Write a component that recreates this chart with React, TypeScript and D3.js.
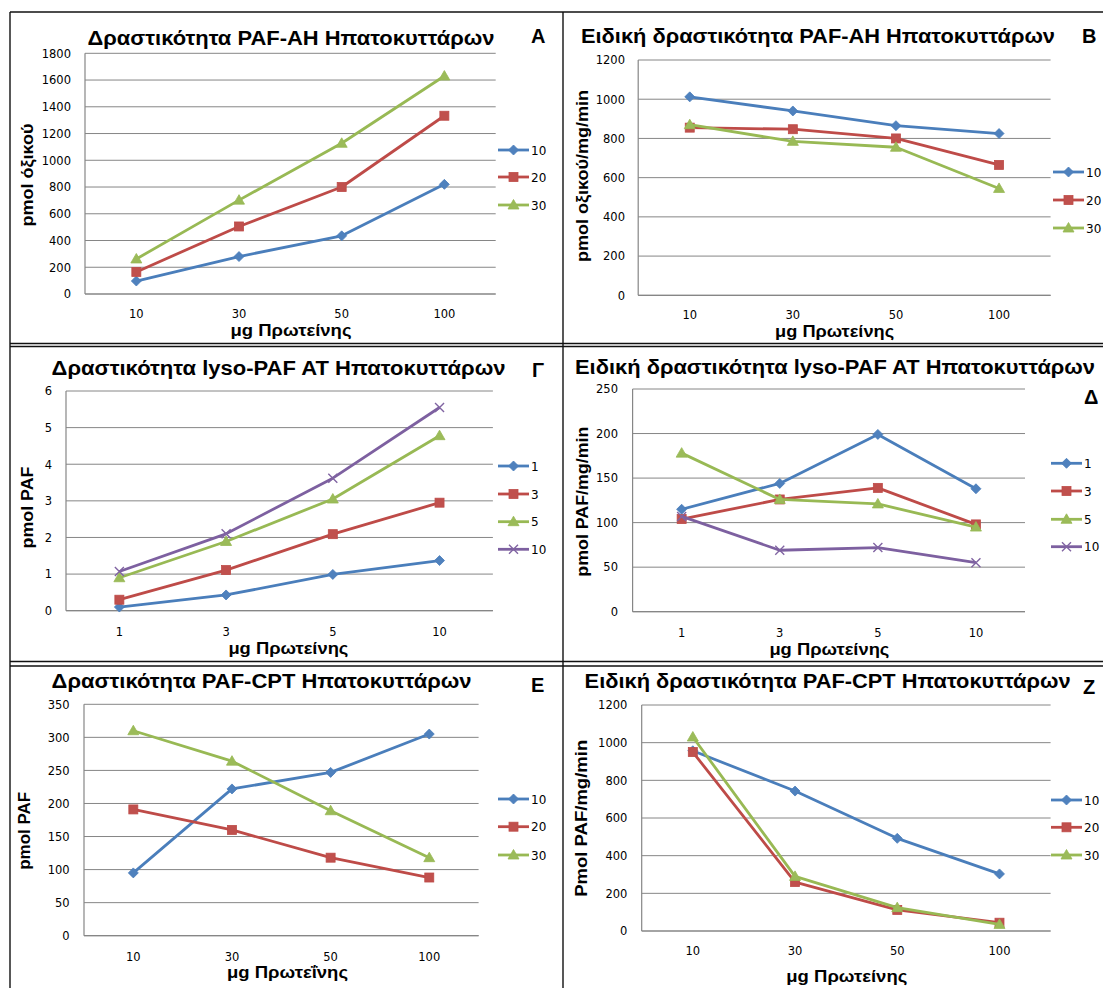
import React from "react";
import * as d3 from "d3";

// categories (μg πρωτεΐνης)
const doseCats = ["10", "30", "50", "100"];
const lysoCats = ["1", "3", "5", "10"];
// legend names
const minSeries = ["10", "20", "30"];
const lysoSeries = ["1", "3", "5", "10"];

// A: Δραστικότητα PAF-AH
const ahAct10 = [97, 280, 435, 820];
const ahAct20 = [165, 505, 800, 1333];
const ahAct30 = [262, 702, 1127, 1630];
const ahActTicks = [0, 200, 400, 600, 800, 1000, 1200, 1400, 1600, 1800];

// B: Ειδική δραστικότητα PAF-AH
const ahSpec10 = [1012, 940, 865, 825];
const ahSpec20 = [855, 847, 800, 665];
const ahSpec30 = [870, 785, 755, 545];
const ahSpecTicks = [0, 200, 400, 600, 800, 1000, 1200];

// Γ: Δραστικότητα lyso-PAF AT
const atAct1 = [0.1, 0.43, 0.99, 1.37];
const atAct3 = [0.3, 1.11, 2.09, 2.95];
const atAct5 = [0.9, 1.89, 3.05, 4.78];
const atAct10 = [1.07, 2.1, 3.62, 5.55];
const atActTicks = [0, 1, 2, 3, 4, 5, 6];

// Δ: Ειδική δραστικότητα lyso-PAF AT
const atSpec1 = [115, 144, 199, 138];
const atSpec3 = [104, 126, 139, 98];
const atSpec5 = [178, 126, 121, 95];
const atSpec10 = [107, 69, 72, 55];
const atSpecTicks = [0, 50, 100, 150, 200, 250];

// E: Δραστικότητα PAF-CPT
const cptAct10 = [95, 222, 247, 305];
const cptAct20 = [191, 160, 118, 88];
const cptAct30 = [310, 264, 189, 118];
const cptActTicks = [0, 50, 100, 150, 200, 250, 300, 350];

// Z: Ειδική δραστικότητα PAF-CPT
const cptSpec10 = [957, 743, 492, 303];
const cptSpec20 = [950, 260, 112, 44];
const cptSpec30 = [1030, 290, 124, 35];
const cptSpecTicks = [0, 200, 400, 600, 800, 1000, 1200];

const lineColors = ["#4A7EBB", "#BE4B48", "#98B954", "#7D60A0"];
const markFill = ["#4F81BD", "#C0504D", "#9BBB59", "#8064A2"];
const tickFont = "'DejaVu Sans', Verdana, sans-serif";
const boldFont = "'Liberation Sans', Arial, sans-serif";

function Marker({ kind, x, y }: { kind: number; x: number; y: number }) {
  const c = markFill[kind];
  if (kind === 0)
    return <path d={`M${x},${y - 5}L${x + 5},${y}L${x},${y + 5}L${x - 5},${y}Z`} fill={c} stroke={lineColors[0]} strokeWidth={0.8} />;
  if (kind === 1)
    return <rect x={x - 4.5} y={y - 4.5} width={9} height={9} fill={c} stroke={lineColors[1]} strokeWidth={0.8} />;
  if (kind === 2)
    return <path d={`M${x},${y - 5.5}L${x + 5.5},${y + 4}L${x - 5.5},${y + 4}Z`} fill={c} stroke={lineColors[2]} strokeWidth={0.8} />;
  return <path d={`M${x - 4.5},${y - 4.5}L${x + 4.5},${y + 4.5}M${x - 4.5},${y + 4.5}L${x + 4.5},${y - 4.5}`} stroke={c} strokeWidth={1.4} fill="none" />;
}

function Panel(p: any) {
  const { L, R, T, B } = p;
  const x = d3.scalePoint<string>().domain(p.cats).range([L, R]).padding(0.5);
  const y = d3.scaleLinear().domain([0, p.ticks[p.ticks.length - 1]]).range([B, T]);
  const line = d3.line<number>().x((_, i) => x(p.cats[i]) as number).y((v) => y(v));
  return (
    <g>
      <text x={p.titleX} y={p.titleY} textAnchor="middle" fontFamily={boldFont} fontWeight="bold" fontSize={20}
        textLength={p.titleW} lengthAdjust="spacingAndGlyphs">{p.title}</text>
      <text x={p.letterX} y={p.letterY} fontFamily={boldFont} fontWeight="bold" fontSize={20}>{p.letter}</text>
      {p.ticks.map((t: number) => (
        <g key={t}>
          <line x1={L} x2={R} y1={y(t)} y2={y(t)} stroke="#868686" strokeWidth={1} />
          <text x={p.tickRight} y={y(t) + 4.3} textAnchor="end" fontFamily={tickFont} fontSize={11.5}>{t}</text>
        </g>
      ))}
      <line x1={L} x2={L} y1={T} y2={B} stroke="#868686" strokeWidth={1.2} />
      <line x1={L} x2={R} y1={B} y2={B} stroke="#868686" strokeWidth={1.2} />
      {p.cats.map((c: string) => (
        <text key={c} x={x(c)} y={p.xTickY + 4} textAnchor="middle" fontFamily={tickFont} fontSize={11.5}>{c}</text>
      ))}
      <text x={p.xTitleX} y={p.xTitleY} textAnchor="middle" fontFamily={boldFont} fontWeight="bold" fontSize={16}
        textLength={p.xTitleW} lengthAdjust="spacingAndGlyphs">{p.xLabel}</text>
      <text transform={`translate(${p.yTitleX},${p.yTitleY}) rotate(-90)`} textAnchor="middle" fontFamily={boldFont}
        fontWeight="bold" fontSize={17} textLength={p.yTitleW} lengthAdjust="spacingAndGlyphs">{p.yLabel}</text>
      {p.values.map((vals: number[], k: number) => (
        <g key={k}>
          <path d={line(vals) as string} fill="none" stroke={lineColors[k]} strokeWidth={2.8} strokeLinejoin="round" />
          {vals.map((v, i) => <Marker key={i} kind={k} x={x(p.cats[i]) as number} y={y(v)} />)}
        </g>
      ))}
      {p.names.map((n: string, k: number) => (
        <g key={n}>
          <line x1={p.legX} x2={p.legX + 31} y1={p.legY[k]} y2={p.legY[k]} stroke={lineColors[k]} strokeWidth={2.8} />
          <Marker kind={k} x={p.legX + 15.5} y={p.legY[k]} />
          <text x={p.legX + 33} y={p.legY[k] + 4.5} fontFamily={tickFont} fontSize={12}>{n}</text>
        </g>
      ))}
    </g>
  );
}

export default function App() {
  return (
    <svg width={1103} height={988} style={{ position: "absolute", left: 0, top: 0, background: "#fff" }}>
      <rect width={1103} height={988} fill="#fff" />
      {/* frame */}
      <g stroke="#111" strokeWidth={1.4}>
        <line x1={10} x2={1103} y1={12} y2={12} />
        <line x1={10} x2={10} y1={12} y2={988} />
        <line x1={563} x2={563} y1={12} y2={988} />
        <line x1={10} x2={1103} y1={343.5} y2={343.5} />
        <line x1={10} x2={1103} y1={346.5} y2={346.5} />
        <line x1={10} x2={1103} y1={661.5} y2={661.5} />
        <line x1={10} x2={1103} y1={666} y2={666} />
      </g>

      <Panel title="Δραστικότητα PAF-AH Ηπατοκυττάρων" letter="A" yLabel="pmol όξικού" xLabel="μg Πρωτείνης"
        cats={doseCats} names={minSeries} values={[ahAct10, ahAct20, ahAct30]} ticks={ahActTicks}
        L={85} R={495.7} T={53.3} B={294}
        titleX={291} titleY={45} titleW={407} letterX={531} letterY={43}
        tickRight={71} xTickY={313.5} xTitleX={291} xTitleY={336} xTitleW={121}
        yTitleX={33} yTitleY={175} yTitleW={103} legX={498} legY={[150, 177, 205]} />

      <Panel title="Ειδική δραστικότητα PAF-AH Ηπατοκυττάρων" letter="B" yLabel="pmol οξικού/mg/min" xLabel="μg Πρωτείνης"
        cats={doseCats} names={minSeries} values={[ahSpec10, ahSpec20, ahSpec30]} ticks={ahSpecTicks}
        L={638.2} R={1050.6} T={60} B={295.3}
        titleX={818} titleY={43} titleW={474} letterX={1082} letterY={43}
        tickRight={625} xTickY={314.5} xTitleX={834.6} xTitleY={337} xTitleW={119}
        yTitleX={588} yTitleY={176} yTitleW={172} legX={1053} legY={[172, 200, 228]} />

      <Panel title="Δραστικότητα lyso-PAF AT Ηπατοκυττάρων" letter="Γ" yLabel="pmol PAF" xLabel="μg Πρωτείνης"
        cats={lysoCats} names={lysoSeries} values={[atAct1, atAct3, atAct5, atAct10]} ticks={atActTicks}
        L={66} R={492.9} T={391} B={610.7}
        titleX={278.6} titleY={375} titleW={454} letterX={532} letterY={377}
        tickRight={52} xTickY={631.7} xTitleX={288.4} xTitleY={654} xTitleW={120}
        yTitleX={33} yTitleY={507.5} yTitleW={82} legX={498} legY={[466, 494, 521.7, 549.3]} />

      <Panel title="Ειδική δραστικότητα lyso-PAF AT Ηπατοκυττάρων" letter="Δ" yLabel="pmol PAF/mg/min" xLabel="μg Πρωτείνης"
        cats={lysoCats} names={lysoSeries} values={[atSpec1, atSpec3, atSpec5, atSpec10]} ticks={atSpecTicks}
        L={632.6} R={1025} T={389} B={611.7}
        titleX={835} titleY={374} titleW={520} letterX={1084} letterY={404}
        tickRight={618} xTickY={633.3} xTitleX={829.4} xTitleY={655} xTitleW={120}
        yTitleX={588} yTitleY={501.7} yTitleW={150} legX={1051} legY={[463.3, 491, 519.3, 546.7]} />

      <Panel title="Δραστικότητα PAF-CPT Ηπατοκυττάρων" letter="E" yLabel="pmol PAF" xLabel="μg Πρωτεΐνης"
        cats={doseCats} names={minSeries} values={[cptAct10, cptAct20, cptAct30]} ticks={cptActTicks}
        L={84} R={478.6} T={704.3} B={935.7}
        titleX={261.6} titleY={688} titleW={420} letterX={531} letterY={692}
        tickRight={69.6} xTickY={956.7} xTitleX={287.5} xTitleY={978} xTitleW={121}
        yTitleX={30} yTitleY={830.8} yTitleW={78} legX={498} legY={[799, 826.7, 855]} />

      <Panel title="Ειδική δραστικότητα PAF-CPT Ηπατοκυττάρων" letter="Z" yLabel="Pmol  PAF/mg/min" xLabel="μg Πρωτείνης"
        cats={doseCats} names={minSeries} values={[cptSpec10, cptSpec20, cptSpec30]} ticks={cptSpecTicks}
        L={641.7} R={1050.6} T={705} B={931}
        titleX={827.6} titleY={688} titleW={486} letterX={1083} letterY={694}
        tickRight={627.4} xTickY={951} xTitleX={846.8} xTitleY={982} xTitleW={121}
        yTitleX={587} yTitleY={818.3} yTitleW={157} legX={1051} legY={[800, 827.3, 855]} />
    </svg>
  );
}
